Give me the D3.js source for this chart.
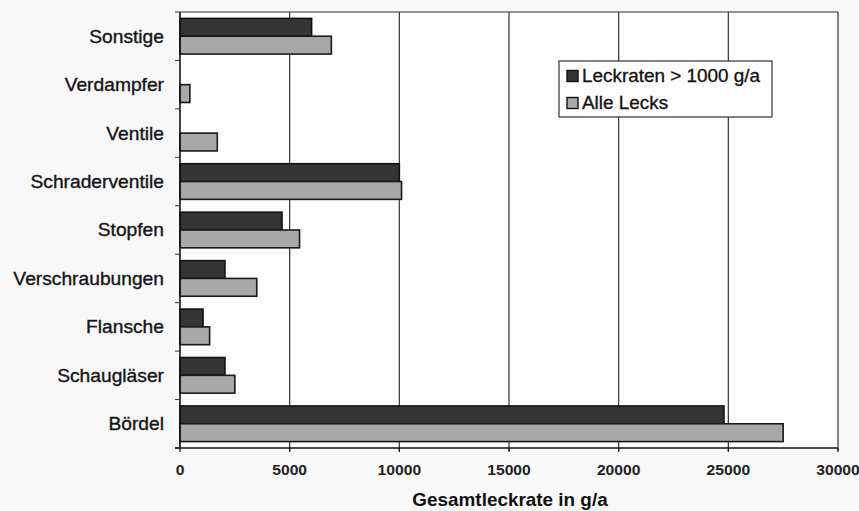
<!DOCTYPE html>
<html><head><meta charset="utf-8">
<script src="https://cdn.jsdelivr.net/npm/d3@7"></script>
<style>body{margin:0;background:#f8f8f8;}svg{display:block;}</style>
</head><body>
<svg id="c" width="859" height="511"></svg>
<script>
const categories = ["Sonstige","Verdampfer","Ventile","Schraderventile","Stopfen","Verschraubungen","Flansche","Schaugläser","Bördel"];
const seriesNames = ["Leckraten > 1000 g/a","Alle Lecks"];
const leckratenOver1000 = [6000, 0, 0, 10000, 4650, 2050, 1050, 2050, 24800];
const alleLecks = [6900, 450, 1700, 10100, 5450, 3500, 1350, 2500, 27500];
const xTicks = [0,5000,10000,15000,20000,25000,30000];
const xTitle = "Gesamtleckrate in g/a";

const svg = d3.select("#c");
const L = 180, R = 838, T = 12, B = 448;
const sx = 1.08;
const x = d3.scaleLinear().domain([0,30000]).range([L,R]);
const y = d3.scaleBand().domain(categories).range([T,B]).paddingInner(0).paddingOuter(0);
const inner = d3.scaleBand().domain([0,1]).range([0,y.bandwidth()]).paddingOuter(0.36).paddingInner(0);
const colors = ["#353535","#a8a8a8"];
const strokes = ["#111","#1a1a1a"];
const FONT = "Liberation Sans, Arial, sans-serif";

svg.append("rect").attr("x",L).attr("y",T).attr("width",R-L).attr("height",B-T).attr("fill","#fdfdfd");

// gridlines
svg.append("g").selectAll("line").data(xTicks.slice(1)).join("line")
  .attr("x1",d=>x(d)).attr("x2",d=>x(d)).attr("y1",T).attr("y2",B+3)
  .attr("stroke","#333").attr("stroke-width",1.2);
// top frame
svg.append("line").attr("x1",L).attr("x2",R).attr("y1",T).attr("y2",T).attr("stroke","#333").attr("stroke-width",1.2);

// bars
const data = [leckratenOver1000, alleLecks];
data.forEach((vals,si)=>{
  svg.append("g").selectAll("rect").data(vals.map((v,i)=>({v,c:categories[i]})).filter(d=>d.v>0)).join("rect")
    .attr("x",x(0)).attr("y",d=>y(d.c)+inner(si)).attr("width",d=>x(d.v)-x(0)).attr("height",inner.bandwidth())
    .attr("fill",colors[si]).attr("stroke",strokes[si]).attr("stroke-width",1.6);
});

// axes
const yAxis = svg.append("g").attr("transform",`translate(${L},0)`);
yAxis.append("line").attr("x1",0).attr("x2",0).attr("y1",T).attr("y2",B).attr("stroke","#111").attr("stroke-width",1.6);
const bounds = categories.map(c=>y(c)).concat([B]);
yAxis.selectAll("line.t").data(bounds).join("line").attr("class","t")
  .attr("x1",-5).attr("x2",0).attr("y1",d=>d).attr("y2",d=>d).attr("stroke","#333");
yAxis.selectAll("text").data(categories).join("text")
  .attr("transform",d=>`translate(-16,${y(d)+y.bandwidth()/2}) scale(${sx},1)`)
  .attr("text-anchor","end").attr("dy","0.36em")
  .attr("font-family",FONT).attr("font-size",17.8).attr("fill","#151515")
  .attr("stroke","#151515").attr("stroke-width",0.35)
  .text(d=>d);

const xAxis = svg.append("g").attr("transform",`translate(0,${B})`);
xAxis.append("line").attr("x1",L-5).attr("x2",R).attr("y1",0).attr("y2",0).attr("stroke","#111").attr("stroke-width",1.6);
xAxis.selectAll("line.t").data(xTicks).join("line").attr("class","t")
  .attr("x1",d=>x(d)).attr("x2",d=>x(d)).attr("y1",0).attr("y2",4).attr("stroke","#111").attr("stroke-width",1.2);
xAxis.selectAll("text").data(xTicks).join("text")
  .attr("transform",d=>`translate(${x(d)},22) scale(${sx},1)`)
  .attr("text-anchor","middle").attr("dy","0.36em")
  .attr("font-family",FONT).attr("font-size",14.5).attr("font-weight","bold").attr("fill","#222")
  .text(d=>d);

svg.append("text").attr("transform",`translate(510,500) scale(${sx},1)`)
  .attr("text-anchor","middle").attr("dy","0.36em")
  .attr("font-family",FONT).attr("font-size",17.5).attr("font-weight","bold").attr("fill","#111")
  .text(xTitle);

// legend
const lg = svg.append("g");
lg.append("rect").attr("x",559).attr("y",61).attr("width",213).attr("height",56).attr("fill","#fdfdfd").attr("stroke","#333").attr("stroke-width",1.2);
seriesNames.forEach((n,i)=>{
  const cy = 76 + i*27;
  lg.append("rect").attr("x",567).attr("y",cy-5.5).attr("width",11).attr("height",11).attr("fill",colors[i]).attr("stroke","#111").attr("stroke-width",1.4);
  lg.append("text").attr("transform",`translate(582,${cy}) scale(${sx},1)`).attr("dy","0.36em")
    .attr("font-family",FONT).attr("font-size",17.5).attr("fill","#111")
    .attr("stroke","#111").attr("stroke-width",0.3).text(n);
});
</script>
</body></html>
